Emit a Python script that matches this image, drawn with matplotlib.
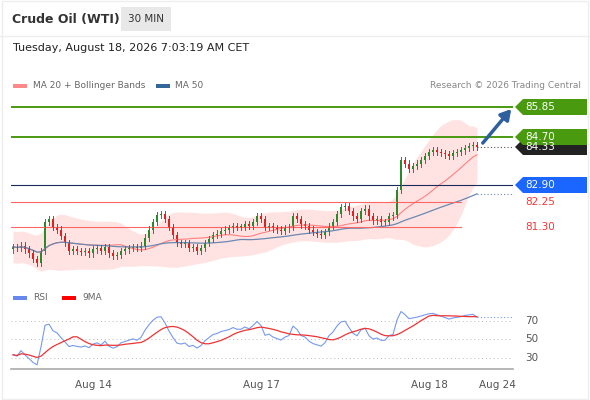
import matplotlib
matplotlib.use("Agg")
import matplotlib.pyplot as plt
from matplotlib.patches import Polygon, FancyBboxPatch
import numpy as np
import pandas as pd

closes = [80.55,80.5,80.6,80.45,80.3,80.1,
          79.95,80.4,81.5,
          81.6,81.3,81.2,80.95,
          80.7,80.4,80.45,80.4,80.35,80.4,80.3,80.45,80.5,
          80.4,80.55,80.3,80.2,80.25,80.4,80.45,
          80.5,80.55,80.5,80.6,80.9,81.2,81.5,
          81.75,81.8,81.6,81.3,81.0,
          80.7,80.65,80.7,80.5,80.55,80.4,80.5,
          80.7,80.85,81.0,81.05,81.15,
          81.2,81.25,81.35,81.3,81.3,81.4,81.35,81.5,
          81.7,81.6,81.3,81.35,
          81.25,81.2,81.15,81.25,81.3,81.7,
          81.6,81.4,81.35,81.2,81.1,
          81.05,81.0,81.1,81.35,81.5,
          81.8,82.05,82.1,81.9,81.7,81.6,
          81.9,82.0,81.7,81.55,81.6,81.5,
          81.5,81.7,81.75,82.7,
          83.85,
          83.7,83.5,83.6,83.7,83.85,84.0,
          84.15,84.2,84.15,84.1,84.05,84.0,
          84.1,84.15,84.2,84.3,84.35,84.4,84.33]
first_open = 80.45
wick = 0.12
levels_green = [85.85, 84.70]
level_blue = 82.90
levels_red = [82.25, 81.30]
last_price = 84.33
tick_pos = [20, 62, 104, 121]
tick_labels = ["Aug 14", "Aug 17", "Aug 18", "Aug 24"]

c = pd.Series(closes)
o = pd.Series([first_open] + closes[:-1])
n = len(c)
x = np.arange(n)
ma20 = c.rolling(20, min_periods=1).mean()
sd = c.rolling(20, min_periods=2).std().bfill().clip(lower=0.3).rolling(6, min_periods=1, center=True).mean()
up, lo = ma20 + 2*sd, ma20 - 2*sd
ma50 = c.rolling(50, min_periods=1).mean()
d = c.diff().fillna(0).values
gs, ls_ = 0.03, 0.06
rsi_vals = []
for v in d:
    gs = (gs*13 + max(v, 0))/14
    ls_ = (ls_*13 + max(-v, 0))/14
    rsi_vals.append(100 - 100/(1 + gs/ls_))
rsi = pd.Series(rsi_vals)
rsima = rsi.rolling(9, min_periods=1).mean()

fig = plt.figure(figsize=(5.9, 4.0), dpi=100)
fig.patch.set_facecolor("white")
W, H = 590, 400
def fx(px): return px / W
def fy(py): return 1 - py / H

fig.text(fx(12), fy(19), "Crude Oil (WTI)", fontsize=9, fontweight="bold", color="#333333", va="center")
fig.patches.append(FancyBboxPatch((fx(121), fy(31)), fx(50), 24/H, boxstyle="square,pad=0",
                                  transform=fig.transFigure, fc="#e8e8e8", ec="none"))
fig.text(fx(146), fy(19), "30 MIN", fontsize=7.5, color="#333333", ha="center", va="center")
fig.add_artist(plt.Line2D([0, 1], [fy(36), fy(36)], color="#eeeeee", lw=1, transform=fig.transFigure))
fig.text(fx(13), fy(48), "Tuesday, August 18, 2026 7:03:19 AM CET", fontsize=8, color="#222222", va="center")
fig.patches.append(FancyBboxPatch((fx(13), fy(88)), 14/W, 4/H, boxstyle="square,pad=0", transform=fig.transFigure, fc="#ff8888", ec="none"))
fig.text(fx(33), fy(86), "MA 20 + Bollinger Bands", fontsize=6.5, color="#666666", va="center")
fig.patches.append(FancyBboxPatch((fx(156), fy(88)), 14/W, 4/H, boxstyle="square,pad=0", transform=fig.transFigure, fc="#336699", ec="none"))
fig.text(fx(175), fy(86), "MA 50", fontsize=6.5, color="#666666", va="center")
fig.text(fx(581), fy(86), "Research \u00a9 2026 Trading Central", fontsize=6.5, color="#888888", ha="right", va="center")

ax = fig.add_axes([fx(11), fy(283), fx(502), (283-95)/H])
ax.set_xlim(-0.5, 125)
ax.set_ylim(79.18, 86.30)
ax.axis("off")
ax.fill_between(x, lo, up, color="#ffdddd", alpha=0.8, lw=0)
ax.plot(x, ma20, color="#ff8080", lw=0.8)
ax.plot(x, ma50, color="#6a88b0", lw=0.9)
ax.plot([n-1, 125], [ma50.iloc[-1]]*2, color="#6a88b0", lw=0.8, ls=(0, (1, 2)))
ax.plot([n-1, 125], [last_price]*2, color="#555555", lw=0.8, ls=(0, (1, 2)))
for lv in levels_green:
    ax.axhline(lv, color="#4a9a10", lw=1.4)
ax.axhline(level_blue, color="#1a2a5a", lw=0.8)
for lv in levels_red:
    ax.plot([-0.5, 112], [lv, lv], color="#ff6666", lw=0.8)
for i in range(n):
    oo, cc = o[i], c[i]
    col = "#2a8a2a" if cc >= oo else "#dd2222"
    ax.plot([i, i], [min(oo, cc)-wick, max(oo, cc)+wick], color=col, lw=0.7)
    ax.bar(i, max(abs(cc-oo), 0.03), bottom=min(oo, cc), width=0.7, color=col, lw=0)
ax.annotate("", xy=(125, 85.85), xytext=(117, 84.40),
            arrowprops=dict(arrowstyle="-|>,head_width=0.35,head_length=0.6", color="#2e5f9e", lw=2.5))

def tag(py, txt, fc, tc="white"):
    y0, y1 = fy(py-8), fy(py+8)
    x0, x1 = fx(515), fx(587)
    poly = Polygon([(x0, fy(py)), (fx(523), y0), (x1, y0), (x1, y1), (fx(523), y1)],
                   closed=True, transform=fig.transFigure, fc=fc, ec="none")
    fig.patches.append(poly)
    fig.text(fx(525), fy(py), txt, fontsize=7.5, color=tc, va="center")

tag(147, "84.33", "#222222")
tag(107, "85.85", "#4a9a10")
tag(137, "84.70", "#4a9a10")
tag(185, "82.90", "#1a66ff")
fig.text(fx(525), fy(202), "82.25", fontsize=7.5, color="#ff3333", va="center")
fig.text(fx(525), fy(227), "81.30", fontsize=7.5, color="#ff3333", va="center")

fig.patches.append(FancyBboxPatch((fx(13), fy(300)), 14/W, 4/H, boxstyle="square,pad=0", transform=fig.transFigure, fc="#6688ee", ec="none"))
fig.text(fx(33), fy(298), "RSI", fontsize=6.5, color="#666666", va="center")
fig.patches.append(FancyBboxPatch((fx(62), fy(300)), 14/W, 4/H, boxstyle="square,pad=0", transform=fig.transFigure, fc="#ff0000", ec="none"))
fig.text(fx(82), fy(298), "9MA", fontsize=6.5, color="#666666", va="center")

ax2 = fig.add_axes([fx(11), fy(369), fx(502), (369-305)/H])
ax2.set_xlim(-0.5, 125)
ax2.set_ylim(18, 87)
for s in ["top", "right", "left"]:
    ax2.spines[s].set_visible(False)
ax2.spines["bottom"].set_color("#aaaaaa")
ax2.spines["bottom"].set_linewidth(1.2)
for v in [70, 50, 30]:
    ax2.axhline(v, color="#bbbbbb", lw=0.7, ls=(0, (1, 3)))
    ax2.text(1.025, v, str(v), transform=ax2.get_yaxis_transform(), fontsize=7.5, color="#555555", va="center")
ax2.plot(x, rsi, color="#7799ee", lw=0.8)
ax2.plot(x, rsima, color="#ee3333", lw=0.9)
ax2.plot([n-1, 125], [rsi.iloc[-1]]*2, color="#7799ee", lw=0.8, ls=(0, (1, 2)))
ax2.set_yticks([])
ax2.set_xticks(tick_pos)
ax2.set_xticklabels(tick_labels, fontsize=7.5, color="#555555")
ax2.tick_params(axis="x", length=0, pad=8)
fig.add_artist(plt.Rectangle((0.003, 0.003), 0.994, 0.994, transform=fig.transFigure, fill=False, ec="#eeeeee", lw=1))
fig.savefig("out.png", dpi=100)
